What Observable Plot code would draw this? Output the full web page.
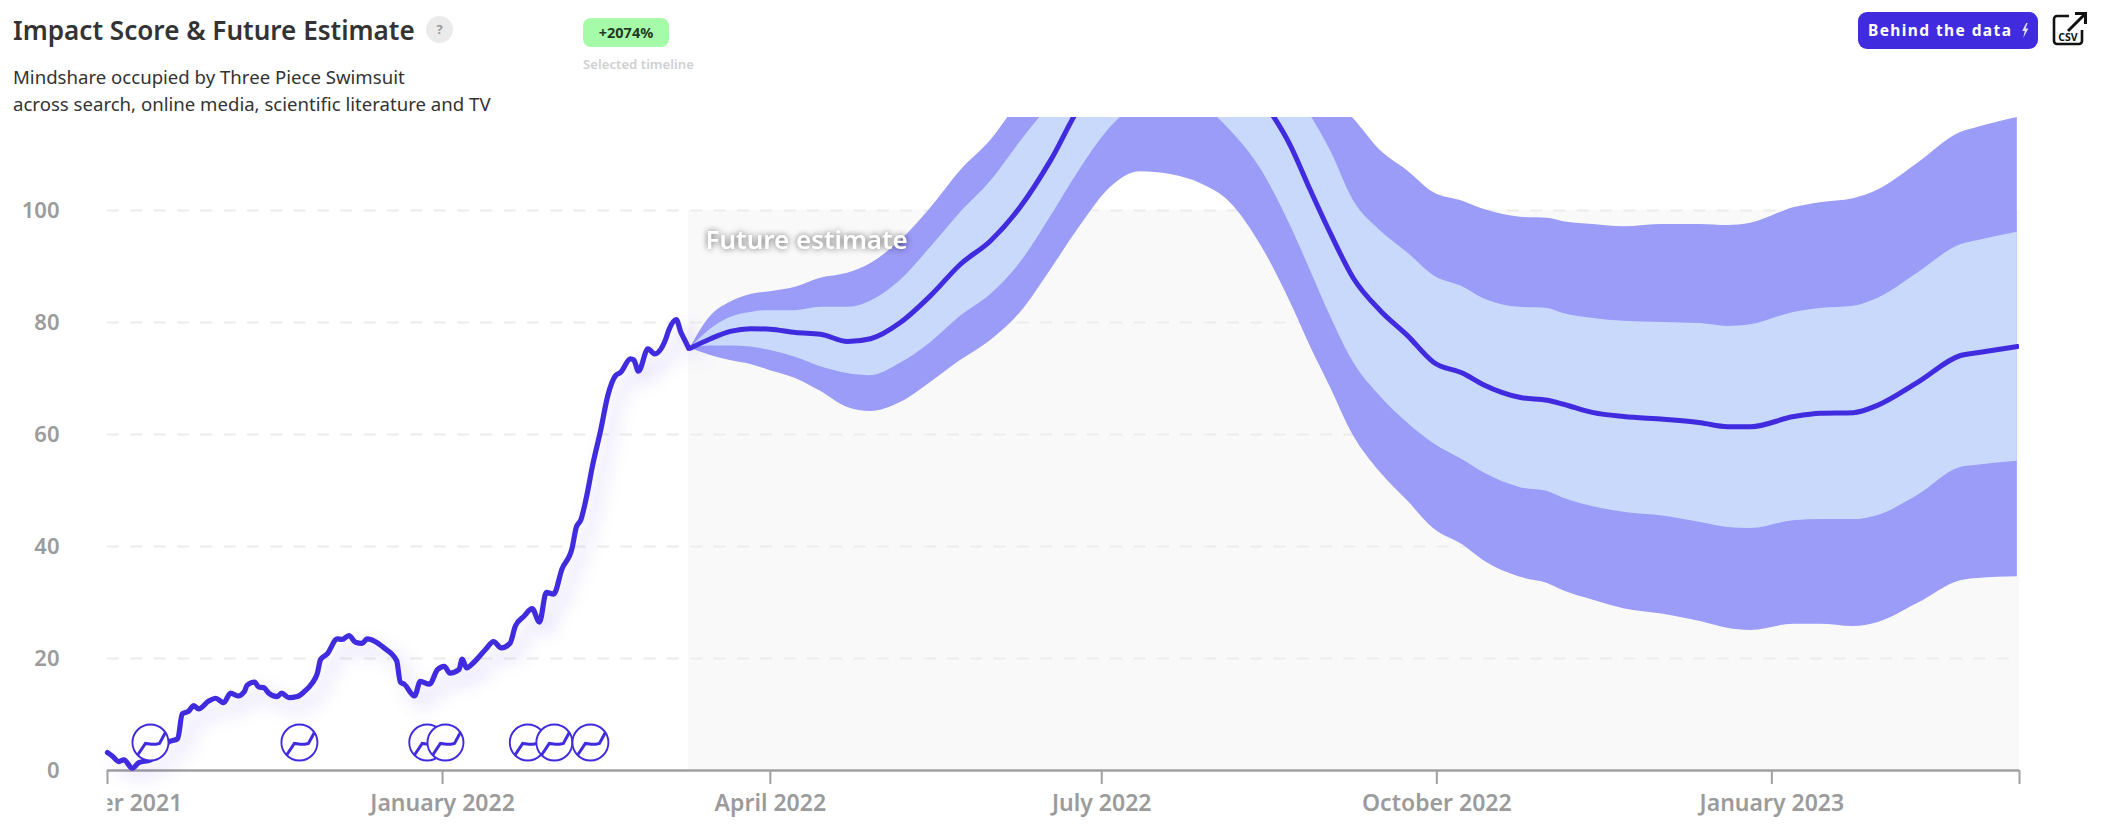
<!DOCTYPE html>
<html>
<head>
<meta charset="utf-8">
<script src="https://cdn.jsdelivr.net/npm/d3@7"></script>
<script src="https://cdn.jsdelivr.net/npm/@observablehq/plot@0.6"></script>
<style>
html,body{margin:0;padding:0;background:#fff;width:2112px;height:832px;overflow:hidden;font-family:"Noto Sans",sans-serif}
#head{position:relative;width:2112px;height:117px;color:#333}
#head>*{position:absolute;white-space:nowrap}
#title{left:13px;top:13px;font-size:26.1px;font-weight:600;line-height:34px}
#help{left:426px;top:16px;width:27px;height:27px;border-radius:50%;background:#ebebeb;color:#999;font-size:13px;font-weight:700;text-align:center;line-height:27px}
.sub{left:13px;font-size:18.6px;line-height:24px}
#badge{left:583px;top:18px;width:86px;height:29px;border-radius:8px;background:#a6fba9;color:#1f3a24;font-size:14.5px;font-weight:700;text-align:center;line-height:29px}
#sel{left:583px;top:55px;font-size:13.2px;line-height:18px;font-weight:600;color:#d0d0d0}
#btn{left:1858px;top:12px;width:180px;height:37px;border-radius:9px;background:#402bde;color:#fff;font-size:15.5px;font-weight:700;letter-spacing:1.4px;line-height:36px;text-align:left;text-indent:10px}
#btn svg{position:absolute;left:163px;top:11px}
#csv{left:2052px;top:11px}
svg.plot-root,figure{display:block;margin:0}
</style>
</head>
<body>
<div id="head">
  <div id="title">Impact Score &amp; Future Estimate</div>
  <div id="help">?</div>
  <div class="sub" style="top:65px">Mindshare occupied by Three Piece Swimsuit</div>
  <div class="sub" style="top:92px">across search, online media, scientific literature and TV</div>
  <div id="badge">+2074%</div>
  <div id="sel">Selected timeline</div>
  <div id="btn">Behind the data<svg width="8" height="15" viewBox="0 0 8 15"><path d="M5.2 0 L1.2 8 H3.8 L2.2 15 L7.4 5.6 H4.6 L6.6 0 Z" fill="#fff" opacity=".85"/></svg></div>
  <svg id="csv" width="36" height="36" viewBox="0 0 36 36" fill="none" stroke="#111" stroke-width="2.6">
    <path d="M17 5 H5 a3 3 0 0 0 -3 3 V30 a3 3 0 0 0 3 3 H27 a3 3 0 0 0 3 -3 V19"/>
    <path d="M16 20 L33 3 M23 2.5 H33.5 V13" stroke-width="3"/>
    <text x="16" y="30" text-anchor="middle" font-size="10.5" font-weight="700" fill="#111" stroke="none" font-family="Noto Sans">CSV</text>
  </svg>
</div>
<div id="chart"></div>
<script>
const startDate = new Date(Date.UTC(2021, 9, 1));
const endDay = 525;
const futureStartDay = 159.6;
const toDate = d => new Date(+startDate + d * 864e5);

const historyDays = [0,1.3,3.1,4.5,6.8,8.6,11.8,16.8,19.3,20.5,22.3,23.7,25,27.8,29.7,31.9,33.8,35.8,37.6,38.3,40.4,41.5,42.9,44.3,46.6,47.8,49.8,52.1,53.9,56.2,57.6,58.5,60.3,63.1,64.4,66.3,68.1,69.9,71.3,73.6,75.9,79.4,80.4,81.5,84.3,85.9,88.4,90.6,92.5,94,96.5,97.4,98.6,100.4,103.8,106,108.1,110.5,112,114.3,116.6,118.6,120.5,122.5,124.8,127.6,128.7,130,131.7,133.1,135.4,137.4,139.5,140.9,143.6,144.5,145.8,148.4,150.2,153.2,154.1,156.2,157.4,158.3,159.6];
const historyScore = [3.2,2.6,1.6,1.9,0.4,1.4,1.9,5.1,5.7,10.1,10.6,11.6,11,12.4,12.9,12.1,13.8,13.3,14.1,15.2,15.8,14.9,14.8,13.8,13.2,13.8,13,13.2,14,15.6,17.3,19.8,20.8,23.5,23.4,24.1,22.9,22.7,23.5,23,21.9,19.6,15.8,15.4,13.3,15.9,15.4,18,18.6,17.4,18,19.9,18.3,19.2,21.6,23,21.9,22.7,25.8,27.5,28.9,26.5,31.8,31.5,36,39.8,43.4,44.8,49.4,54.2,60.7,67,70.5,71.1,73.5,73.3,71.3,75.3,74.4,76.9,78.6,80.5,78.3,77.1,75.4];

const futureDays = [160,165.6,171,176.6,182,188.9,195.8,203.2,209.5,217.7,226,234.2,242.5,250.7,258.9,267.2,275.4,283.6,291.9,300.1,308.3,316.6,324.8,330.3,335.8,342.1,349.5,356.9,364.1,372.3,377.8,388,395.4,399.8,408,416.3,427.3,437.4,444.8,451.2,463,470.3,479.4,486,497,508.8,513.4,524.4];
const upperOuter = [75.4,81.1,83.6,85,85.5,86.3,87.9,88.8,90.5,94.6,100.4,107.1,112.5,119.6,125,129.5,133,135.4,136.6,136.6,134.8,132.1,128.6,125,120.5,116.4,110.7,107.1,103.2,101.6,100.2,98.8,98.6,98,97.5,97.1,97.5,97.5,97.3,97.7,100.5,101.4,102.1,103.6,108.4,113.9,114.8,116.6];
const upperInner = [75.4,78.8,80.9,81.8,82.1,82.1,82.7,82.7,83.8,87.5,93.4,99.6,105.2,112.3,118.8,124.1,127.7,130.4,131.8,131.8,130.4,126.8,122.3,117,110.7,101.8,96.4,92.5,88.4,86.3,84.3,82.7,82.5,81.6,80.7,80.2,80,79.8,79.3,79.6,81.8,82.5,82.9,84.3,88.8,93.9,94.6,96.1];
const estimate = [75.4,77.1,78.4,78.9,78.8,78.2,77.9,76.6,77.1,80,84.8,90.4,94.6,100.7,108.9,118.8,125,129.5,132.1,132.1,126.8,120.2,111.6,103.6,95.9,87.9,82.1,77.7,72.9,70.9,68.9,66.6,66.1,65.4,63.9,63.2,62.7,62.1,61.4,61.4,63.2,63.8,63.9,65.2,69.3,74.1,74.6,75.7];
const lowerInner = [75.4,75.8,75.8,75.6,75,73.8,72.1,70.9,70.5,72.7,76.4,81.1,85,90.7,98.8,107.5,114.8,119.3,121.4,119.1,114.3,107.5,97.3,89.3,81.1,72.9,66.8,62.1,58.4,55.4,53.2,50.5,49.8,48.6,47.1,46.1,45.4,44.3,43.4,43.2,44.6,44.8,44.8,45.5,49.1,54.1,54.5,55.2];
const lowerOuter = [75.4,74.1,73.2,72.5,71.4,70,67.7,64.8,64.1,65.7,69.3,73.2,76.8,81.8,89.3,97.3,104.1,106.9,106.4,104.8,101.4,93.9,83.6,75.7,68.4,59.8,53.2,48.2,43.2,40.2,37.5,34.5,33.4,32.1,30.4,28.9,27.9,26.6,25.4,25,26.1,26.1,25.7,26.4,29.8,33.9,34.3,34.6];

const eventDays = [11.8,52.7,87.8,92.8,115.4,122.7,132.6];
const eventLevel = 5;
const gridValues = [20,40,60,80,100];
const yTicks = [0,20,40,60,80,100];
const xTickDays = [0,92,182,273,365,457,endDay];
const xTickNames = ["October 2021","January 2022","April 2022","July 2022","October 2022","January 2023",""];
const annotation = "Future estimate";
const annotationDay = 164.2, annotationValue = 94.6;

const BLUE = "#402bde", DARK_BAND = "#9b9bf8", LIGHT_BAND = "#c9d9fc", FUTURE_BG = "#f9f9f9", GREY = "#a0a0a0";

const pastRows = historyDays.map((d,i)=>({date:toDate(d),v:historyScore[i]}));
const future = futureDays.map((d,i)=>({date:toDate(d),uo:upperOuter[i],ui:upperInner[i],m:estimate[i],li:lowerInner[i],lo:lowerOuter[i]}));
const xTickDates = xTickDays.map(toDate);
const tickName = new Map(xTickDates.map((d,i)=>[+d,xTickNames[i]]));

const ringSymbol = {draw(c,s){const r=Math.sqrt(s/Math.PI);c.moveTo(r,0);c.arc(0,0,r,0,2*Math.PI);}};
const trendSymbol = {draw(c,s){const r=Math.sqrt(s/Math.PI);
  c.moveTo(-.7*r,.68*r);c.lineTo(-.28*r,.05*r);c.lineTo(.06*r,.1*r);c.lineTo(.3*r,.1*r);c.lineTo(.5*r,.05*r);c.lineTo(.83*r,-.56*r);}};

const curve = "monotone-x";
const plot = Plot.plot({
  width:2112,height:715,marginLeft:107,marginRight:93,marginTop:0,marginBottom:62,
  style:{fontFamily:"'Noto Sans', sans-serif",background:"transparent",overflow:"visible"},
  x:{type:"utc",domain:[toDate(0),toDate(endDay)]},
  y:{domain:[0,116.6]},
  marks:[
    Plot.rectY([0],{x1:toDate(futureStartDay),x2:toDate(endDay),y1:0,y2:100,fill:FUTURE_BG}),
    Plot.ruleY(gridValues,{stroke:"#ececec",strokeWidth:2,strokeDasharray:"12 11.33"}),
    Plot.areaY(future,{x:"date",y1:"lo",y2:"uo",fill:DARK_BAND,curve,clip:true}),
    Plot.areaY(future,{x:"date",y1:"li",y2:"ui",fill:LIGHT_BAND,curve,clip:true}),
    Plot.ruleY([0],{stroke:GREY,strokeWidth:2.5}),
    Plot.line(pastRows,{x:"date",y:"v",stroke:BLUE,strokeWidth:5.2,curve,strokeLinejoin:"round"}),
    Plot.line(future,{x:"date",y:"m",stroke:BLUE,strokeWidth:5,curve,clip:true}),
    eventDays.flatMap(d=>[
      Plot.dot([d],{x:v=>toDate(v),y:()=>eventLevel,r:18,symbol:ringSymbol,fill:"#fff",stroke:BLUE,strokeWidth:1.9}),
      Plot.dot([d],{x:v=>toDate(v),y:()=>eventLevel,r:18,symbol:trendSymbol,fill:"none",stroke:BLUE,strokeWidth:3})
    ]),
    Plot.text([annotation],{x:()=>toDate(annotationDay),y:()=>annotationValue,text:d=>d,textAnchor:"start",fill:"#fff",fontSize:26,fontWeight:600}),
    Plot.axisY({ticks:yTicks,tickSize:0,tickPadding:48,fontSize:22,fontWeight:600,fill:"#9b9b9b",label:null}),
    Plot.axisX({ticks:xTickDates,tickFormat:d=>tickName.get(+d),tickSize:14,tickPadding:10,stroke:GREY,strokeWidth:2,fontSize:23,fontWeight:600,fill:"#9b9b9b",label:null})
  ]
});
document.getElementById("chart").appendChild(plot);

const root = d3.select(plot);
root.select('g[aria-label="line"]').style("filter","drop-shadow(9px 9px 9px rgba(64,43,222,.22))");
root.selectAll('g[aria-label="text"]').filter(function(){return this.textContent===annotation;})
    .style("filter","drop-shadow(0 0 3px rgba(0,0,0,.6))");
// the first tick label is cut at the chart's left edge
const svgNS = "http://www.w3.org/2000/svg";
const cut = document.createElementNS(svgNS,"clipPath"); cut.id="leftcut";
const r = document.createElementNS(svgNS,"rect");
r.setAttribute("x",107);r.setAttribute("y",0);r.setAttribute("width",2005);r.setAttribute("height",715);
cut.appendChild(r);plot.appendChild(cut);
root.selectAll('g').filter(function(){return [...this.children].some(n=>n.tagName==="text"&&n.textContent==="October 2021");}).attr("clip-path","url(#leftcut)");
</script>
</body>
</html>
